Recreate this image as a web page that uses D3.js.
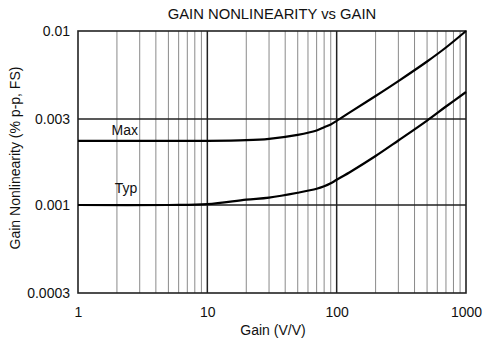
<!DOCTYPE html>
<html><head><meta charset="utf-8">
<script src="https://cdn.jsdelivr.net/npm/d3@7"></script>
<style>body{margin:0;background:#fff}svg{display:block;font-family:"Liberation Sans",Arial,Helvetica,sans-serif}</style>
</head><body><svg id="c" width="486" height="347"></svg>
<script>
const title = "GAIN NONLINEARITY vs GAIN";
const xTitle = "Gain (V/V)";
const yTitle = "Gain Nonlinearity (% p-p, FS)";
const xTicks = [1, 10, 100, 1000];
const xTickLabels = ["1", "10", "100", "1000"];
const yTicks = [0.0003, 0.001, 0.003, 0.01];
const yTickLabels = ["0.0003", "0.001", "0.003", "0.01"];
const maxGain = [1, 2, 5, 10, 20, 30, 50, 70, 80, 90, 100, 130, 200, 300, 500, 700, 1000];
const maxVal = [0.00227, 0.00227, 0.00227, 0.00227, 0.00229, 0.00233, 0.00245, 0.00259, 0.0027, 0.0028, 0.00293, 0.00333, 0.00411, 0.00504, 0.00659, 0.00798, 0.01];
const typGain = [1, 5, 10, 20, 30, 50, 70, 80, 90, 100, 130, 200, 300, 500, 700, 1000];
const typVal = [0.001, 0.001, 0.00101, 0.00107, 0.0011, 0.00117, 0.00123, 0.00127, 0.00132, 0.00138, 0.00154, 0.00187, 0.00228, 0.00294, 0.00356, 0.00434];
const seriesLabels = [{name: "Max", gain: 2.3, val: 0.00245}, {name: "Typ", gain: 2.35, val: 0.00117}];

const svg = d3.select("#c");
const L = 78, R = 466, T = 31, B = 293;
const x = d3.scaleLog().domain([1, 1000]).range([L, R]);
const y = d3.scaleLog().domain(yTicks).range([B, 205, 119, T]);

// minor vertical grid
const minor = [];
for (let d = 1; d <= 100; d *= 10) for (let k = 2; k <= 9; k++) minor.push(d * k);
svg.append("g").selectAll("line").data(minor).join("line")
  .attr("x1", d => x(d)).attr("x2", d => x(d)).attr("y1", T).attr("y2", B)
  .attr("stroke", "#8a8a8a").attr("stroke-width", 1);
// major vertical
svg.append("g").selectAll("line").data(xTicks.slice(1, -1)).join("line")
  .attr("x1", d => x(d)).attr("x2", d => x(d)).attr("y1", T).attr("y2", B)
  .attr("stroke", "#222").attr("stroke-width", 1.5);
// horizontal grid
svg.append("g").selectAll("line").data(yTicks.slice(1, -1)).join("line")
  .attr("x1", L).attr("x2", R).attr("y1", d => y(d)).attr("y2", d => y(d))
  .attr("stroke", "#222").attr("stroke-width", 1.6);
// frame
svg.append("rect").attr("x", L).attr("y", T).attr("width", R - L).attr("height", B - T)
  .attr("fill", "none").attr("stroke", "#222").attr("stroke-width", 1.6);

// curves
const line = d3.line().x(d => x(d[0])).y(d => y(d[1])).curve(d3.curveCatmullRom.alpha(0.5));
svg.append("path").datum(maxGain.map((g, i) => [g, maxVal[i]])).attr("d", line)
  .attr("fill", "none").attr("stroke", "#000").attr("stroke-width", 2.2);
svg.append("path").datum(typGain.map((g, i) => [g, typVal[i]])).attr("d", line)
  .attr("fill", "none").attr("stroke", "#000").attr("stroke-width", 2.2);

svg.append("g").selectAll("text").data(seriesLabels).join("text")
  .attr("x", d => x(d.gain)).attr("y", d => y(d.val)).attr("text-anchor", "middle")
  .attr("font-size", 14).attr("fill", "#111").text(d => d.name);

// axes labels
const xAxis = d3.axisBottom(x).tickValues(xTicks).tickFormat((d, i) => xTickLabels[i]).tickSize(0).tickPadding(0);
const gx = svg.append("g").attr("transform", `translate(0,${B})`).call(xAxis);
gx.select(".domain").remove();
gx.selectAll("text").attr("dy", null).attr("y", 24).attr("font-size", 14).attr("fill", "#111").attr("font-family", null);

const yAxis = d3.axisLeft(y).tickValues(yTicks).tickFormat((d, i) => yTickLabels[i]).tickSize(0).tickPadding(0);
const gy = svg.append("g").attr("transform", `translate(${L - 8},0)`).call(yAxis);
gy.select(".domain").remove();
gy.selectAll("text").attr("font-size", 14).attr("fill", "#111").attr("font-family", null);

svg.append("text").attr("x", (L + R) / 2).attr("y", 19).attr("text-anchor", "middle")
  .attr("font-size", 14.8).attr("fill", "#111").text(title);
svg.append("text").attr("x", (L + R) / 2 + 1).attr("y", 335).attr("text-anchor", "middle")
  .attr("font-size", 14).attr("fill", "#111").text(xTitle);
svg.append("text").attr("transform", "translate(20,158) rotate(-90)").attr("text-anchor", "middle")
  .attr("font-size", 14).attr("fill", "#111").text(yTitle);
</script></body></html>
